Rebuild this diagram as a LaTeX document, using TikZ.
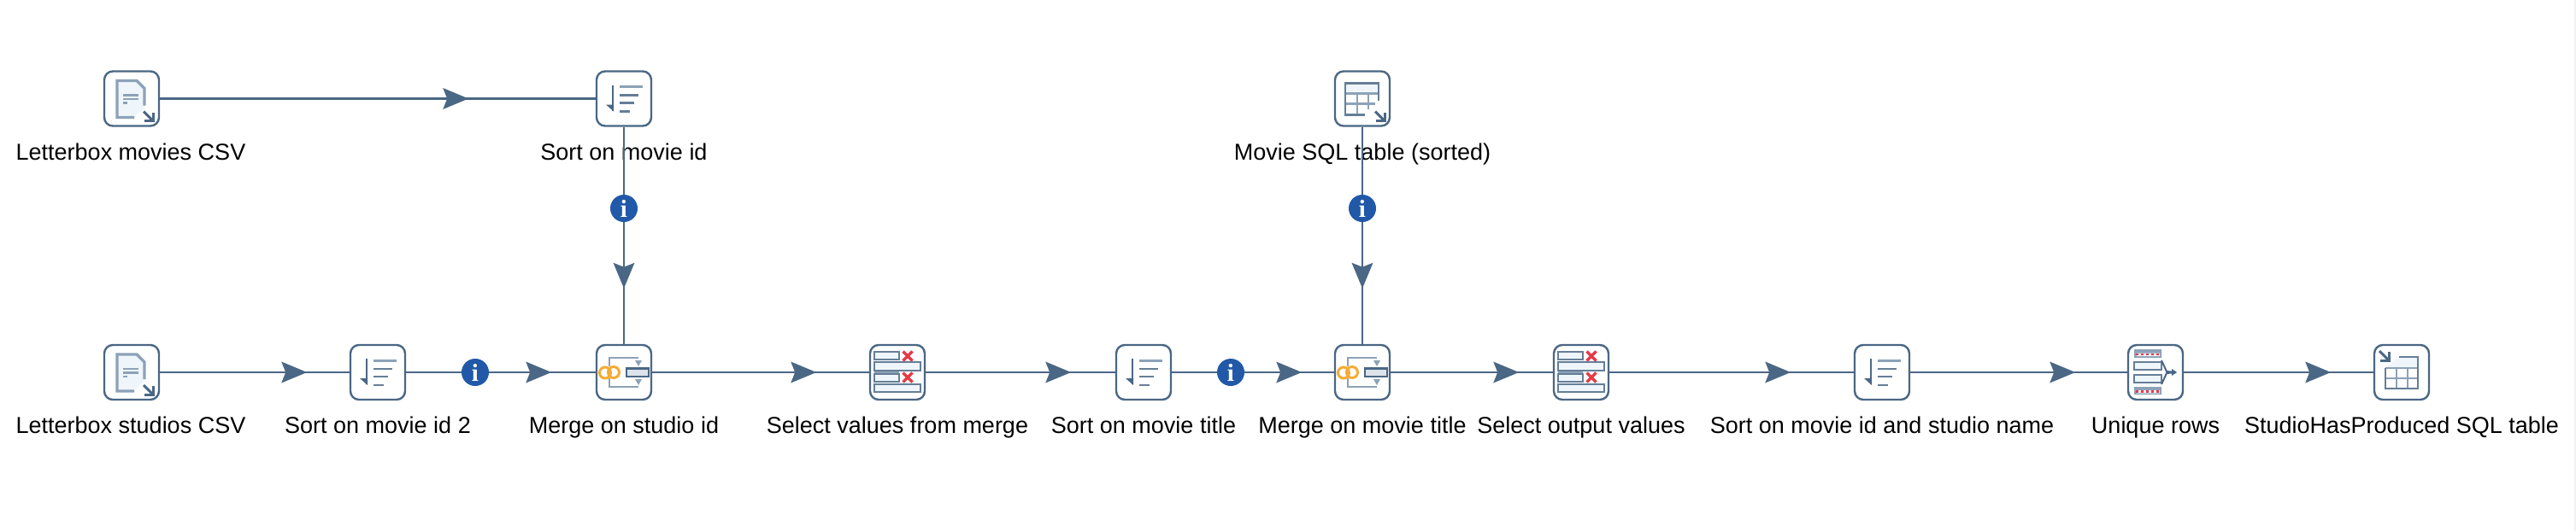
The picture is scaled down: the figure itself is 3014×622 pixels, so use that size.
\documentclass[tikz,border=0pt]{standalone}
\usepackage{fontspec}
\setmainfont{Liberation Sans}
\newfontfamily\infofont{Liberation Serif}
\usetikzlibrary{decorations.markings}
\definecolor{edgecol}{HTML}{4A6785}
\definecolor{softcol}{HTML}{8CA2B8}
\definecolor{palecol}{HTML}{EFF6FB}
\definecolor{redcol}{HTML}{E63946}
\definecolor{ringcol}{HTML}{F5AB35}
\definecolor{infocol}{HTML}{2159A8}
\definecolor{stripcol}{HTML}{F2F2F2}
\tikzset{
  stepbox/.style={draw=edgecol,line width=2.4pt,fill=white,rounded corners=10pt,minimum width=64pt,minimum height=64pt,inner sep=0pt,outer sep=1.2pt},
  lbl/.style={anchor=base,font=\fontsize{27}{32}\selectfont,text=black,inner sep=0pt},
  infobadge/.style={circle,fill=infocol,minimum size=32pt,inner sep=0pt,text=white,font=\infofont\bfseries\fontsize{29}{29}\selectfont},
  conn/.style={draw=edgecol,line width=2.2pt},
  arrowat/.style={postaction={decorate,decoration={markings,mark=at position #1 with {\fill[edgecol] (0,0)--(-30,-12.5)--(-25,0)--(-30,12.5)--cycle;}}}},
  barhard/.style={draw=edgecol!85,fill=palecol,line width=2.4pt}
}
\newcommand{\smallout}[2]{\draw[edgecol,line width=3pt] (#1,#2)--(#1+10,#2+10);\draw[edgecol,line width=3pt] (#1+1,#2+11)--(#1+11,#2+11)--(#1+11,#2+1);}
\newcommand{\icondoc}[2]{\begin{scope}[shift={(#1,#2)}]
  \fill[palecol] (-17,-21)--(6,-21)--(15,-12)--(15,10)--(3,22)--(-17,22)--cycle;
  \draw[softcol,line width=3.4pt] (3,22)--(-17,22)--(-17,-21)--(6,-21)--(15,-12)--(15,8);
  \draw[softcol,line width=2.2pt] (-10,-4)--(8,-4) (-10,0.5)--(8,0.5);
  \draw[softcol,line width=2.2pt] (-10,5)--(-5,5);
  \smallout{14}{15}
\end{scope}}
\newcommand{\iconsort}[2]{\begin{scope}[shift={(#1,#2)}]
  \draw[edgecol,line width=2pt] (-13,-16)--(-13,14);
  \fill[edgecol] (-21,7)--(-12,7)--(-12,15)--cycle;
  \draw[softcol,line width=3pt] (-5,-14)--(22,-14);
  \draw[edgecol!85,line width=2.4pt] (-5,-4)--(17,-4) (-5,5)--(12,5) (-5,15)--(7,15);
\end{scope}}
\newcommand{\iconmerge}[2]{\begin{scope}[shift={(#1,#2)}]
  \draw[softcol,line width=2pt] (-17,-7)--(-17,-17)--(17,-17) (-17,7)--(-17,17)--(17,17);
  \fill[softcol] (13,-14)--(21,-14)--(17,-7)--cycle (13,8)--(21,8)--(17,15)--cycle;
  \draw[ringcol,line width=3pt] (-22,0.5) circle (6.5) (-12,0) circle (6.5);
  \draw[edgecol,fill=softcol!30,line width=2.6pt] (3,-4.5) rectangle (29,5);
\end{scope}}
\newcommand{\iconselect}[2]{\begin{scope}[shift={(#1,#2)}]
  \fill[softcol] (-27,-4) rectangle (2,4);
  \draw[barhard] (-27,-24) rectangle (2,-15);
  \draw[barhard] (-27,-12) rectangle (27,-2);
  \draw[barhard] (-27,2) rectangle (2,11);
  \draw[barhard] (-27,14) rectangle (27,23);
  \draw[redcol,line width=3.4pt] (6.5,-24.5)--(17.5,-13.5) (17.5,-24.5)--(6.5,-13.5) (6.5,0.5)--(17.5,11.5) (17.5,0.5)--(6.5,11.5);
\end{scope}}
\newcommand{\iconunique}[2]{\begin{scope}[shift={(#1,#2)}]
  \fill[softcol] (-25,-27) rectangle (7,-17) (-25,17) rectangle (7,26);
  \fill[white!85!softcol] (-22.5,-22.5) rectangle (5,-19) (-22.5,21) rectangle (5,24.5);
  \draw[redcol,line width=2.2pt,dash pattern=on 3pt off 3pt] (-23,-21)--(6,-21) (-23,22.5)--(6,22.5);
  \draw[barhard] (-25,-12) rectangle (7,-3);
  \draw[barhard] (-25,3) rectangle (7,12);
  \draw[edgecol,line width=2pt] (7,-14)--(13,-1)--(24,0) (7,14)--(13,1)--(24,0);
  \fill[edgecol] (19,-4)--(25,0)--(19,4)--cycle;
\end{scope}}
\newcommand{\icontablein}[2]{\begin{scope}[shift={(#1,#2)}]
  \fill[palecol] (-20,-18) rectangle (19,-6);
  \draw[softcol,line width=2.4pt] (-6,-6)--(-6,19) (7,-6)--(7,12) (-20,6)--(15,6);
  \draw[softcol,line width=2.2pt] (-20,-6)--(19,-6);
  \draw[edgecol!85,line width=2.8pt] (3,19)--(-20,19)--(-20,-18)--(19,-18)--(19,2);
  \smallout{15}{15}
\end{scope}}
\newcommand{\icontableout}[2]{\begin{scope}[shift={(#1,#2)}]
  \fill[palecol] (-19,-5)--(-3,-18)--(19,-18)--(19,-5)--cycle;
  \draw[softcol,line width=2.4pt] (-6,-5)--(-6,19) (7,-5)--(7,19) (-19,7)--(19,7) (-19,-5)--(19,-5);
  \draw[edgecol!85,line width=2.8pt] (-19,-5)--(-19,19)--(19,19)--(19,-18)--(-3,-18);
  \smallout{-26}{-25}
\end{scope}}
\begin{document}
\begin{tikzpicture}[x=1pt,y=-1pt]
\useasboundingbox (0,0) rectangle (3014,622);
\fill[white] (0,0) rectangle (3014,622);
\fill[stripcol] (3012,0) rectangle (3014,622);
% step boxes
\node[stepbox] (a) at (154,115.5) {};
\node[stepbox] (b) at (730,115.5) {};
\node[stepbox] (c) at (1594,115.5) {};
\node[stepbox] (d) at (154,436) {};
\node[stepbox] (e) at (442,436) {};
\node[stepbox] (f) at (730,436) {};
\node[stepbox] (g) at (1050,436) {};
\node[stepbox] (h) at (1338,436) {};
\node[stepbox] (i) at (1594,436) {};
\node[stepbox] (j) at (1850,436) {};
\node[stepbox] (k) at (2202,436) {};
\node[stepbox] (l) at (2522,436) {};
\node[stepbox] (m) at (2810,436) {};
% labels
\node[lbl] (la) at (153,187) {Letterbox movies CSV};
\node[lbl] (lb) at (730,187) {Sort on movie id};
\node[lbl] (lc) at (1594,187) {Movie SQL table (sorted)};
\node[lbl] (ld) at (153,507) {Letterbox studios CSV};
\node[lbl] (le) at (442,507) {Sort on movie id 2};
\node[lbl] (lf) at (730,507) {Merge on studio id};
\node[lbl] (lg) at (1050,507) {Select values from merge};
\node[lbl] (lh) at (1338,507) {Sort on movie title};
\node[lbl] (li) at (1594,507) {Merge on movie title};
\node[lbl] (lj) at (1850,507) {Select output values};
\node[lbl] (lk) at (2202,507) {Sort on movie id and studio name};
\node[lbl] (ll) at (2522,507) {Unique rows};
\node[lbl] (lm) at (2810,507) {StudioHasProduced SQL table};
% connectors
\draw[conn,arrowat=361pt] (a.east)--(b.west);
\draw[conn,arrowat=189pt] (b.south)--(f.north);
\draw[conn,arrowat=189pt] (c.south)--(i.north);
\draw[conn,arrowat=172pt] (d.east)--(e.west);
\draw[conn,arrowat=170pt] (e.east)--(f.west);
\draw[conn,arrowat=192pt] (f.east)--(g.west);
\draw[conn,arrowat=170pt] (g.east)--(h.west);
\draw[conn,arrowat=152pt] (h.east)--(i.west);
\draw[conn,arrowat=150pt] (i.east)--(j.west);
\draw[conn,arrowat=212pt] (j.east)--(k.west);
\draw[conn,arrowat=193pt] (k.east)--(l.west);
\draw[conn,arrowat=172pt] (l.east)--(m.west);
% info badges
\node[infobadge] (ia) at (730,244) {i};
\node[infobadge] (ib) at (1594,244) {i};
\node[infobadge] (ic) at (556,436) {i};
\node[infobadge] (id) at (1440,436) {i};
% icons
\icondoc{154}{115.5}
\iconsort{730}{115.5}
\icontablein{1594}{115.5}
\icondoc{154}{436}
\iconsort{442}{436}
\iconmerge{730}{436}
\iconselect{1050}{436}
\iconsort{1338}{436}
\iconmerge{1594}{436}
\iconselect{1850}{436}
\iconsort{2202}{436}
\iconunique{2522}{436}
\icontableout{2810}{436}
\end{tikzpicture}
\end{document}
